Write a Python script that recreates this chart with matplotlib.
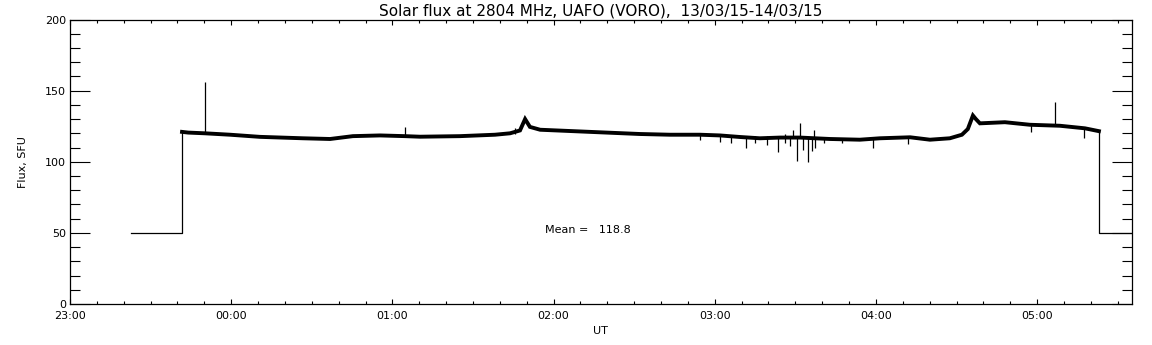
import matplotlib
matplotlib.use("Agg")
import matplotlib.pyplot as plt
from matplotlib.ticker import MultipleLocator, FuncFormatter

# time in minutes after 23:00 UT, flux in SFU
cal_t = [22.7, 41.7, 41.7]
cal_flux = [50.0, 50.0, 121.0]

sun_t = [41.7, 44.0, 50.2, 59.6, 70.7, 86.7, 96.8, 105.3, 115.4, 124.7, 130.3,
         145.2, 158.2, 163.8, 167.5, 169.4, 171.2, 175.0, 197.3, 212.2, 223.3,
         234.5, 241.9, 249.4, 256.8, 264.3, 271.7, 282.9, 294.0, 301.5, 312.7,
         320.1, 327.5, 332.0, 334.2, 336.1, 337.2, 338.7, 348.0, 357.3, 368.5,
         377.8, 383.0]
sun_flux = [121.0, 120.5, 120.0, 119.0, 117.5, 116.5, 116.0, 118.0, 118.5, 118.0, 117.6,
            118.0, 119.0, 120.0, 122.0, 130.0, 124.5, 122.5, 120.7, 119.5, 119.0,
            119.0, 118.5, 117.4, 116.5, 117.0, 117.0, 116.0, 115.5, 116.5, 117.2,
            115.5, 116.5, 119.0, 123.0, 132.5, 130.0, 127.0, 127.8, 126.0, 125.3,
            123.5, 121.5]

end_t = [383.0, 383.0, 395.2]
end_flux = [121.5, 50.0, 50.0]

# short spikes / glitches: time, low end, high end
spike_t = [50.2, 124.7, 165.5, 234.5, 241.9, 246.0, 251.6, 255.0, 259.3, 263.5,
           266.0, 268.0, 269.1, 270.6, 271.7, 272.8, 274.6, 276.2, 277.0, 277.3,
           280.5, 287.3, 298.9, 312.0, 357.9, 366.5, 377.5]
spike_lo = [120.0, 117.5, 119.5, 115.0, 114.0, 113.5, 109.7, 113.0, 112.0, 107.0,
            113.0, 111.0, 118.0, 100.5, 117.0, 108.0, 100.0, 107.6, 117.0, 110.0,
            113.5, 113.0, 110.0, 112.5, 121.0, 125.0, 116.5]
spike_hi = [156.0, 124.6, 123.5, 119.0, 118.5, 118.5, 118.0, 118.0, 118.0, 118.0,
            119.5, 118.0, 122.0, 117.0, 127.5, 117.0, 117.0, 117.0, 122.0, 117.0,
            117.0, 116.5, 116.5, 117.5, 126.5, 142.2, 123.5]

mean_flux = 118.8

fig = plt.figure(figsize=(11.52, 3.45), dpi=100)
ax = fig.add_axes([70 / 1152, 41 / 345, 1061.7 / 1152, 284.5 / 345])

ax.plot(cal_t, cal_flux, color="black", lw=0.9)
ax.plot(end_t, end_flux, color="black", lw=0.9)
ax.plot(sun_t, sun_flux, color="black", lw=2.8, solid_joinstyle="miter")
ax.vlines(spike_t, spike_lo, spike_hi, color="black", lw=0.9)

ax.text(176.8, 52, "Mean =   %.1f" % mean_flux, fontsize=8, va="center", ha="left")

ax.set_xlim(0, 395.2)
ax.set_ylim(0, 200)

ax.xaxis.set_major_locator(MultipleLocator(60))
ax.xaxis.set_minor_locator(MultipleLocator(10))
ax.yaxis.set_major_locator(MultipleLocator(50))
ax.yaxis.set_minor_locator(MultipleLocator(10))
ax.xaxis.set_major_formatter(FuncFormatter(lambda m, p: "%02d:00" % ((23 + int(round(m / 60))) % 24)))

ax.tick_params(axis="x", which="major", direction="in", length=3.8, width=0.8,
               top=True, labelsize=8, pad=5)
ax.tick_params(axis="x", which="minor", direction="in", length=2.0, width=0.8, top=True)
ax.tick_params(axis="y", which="major", direction="in", length=14.4, width=0.8,
               right=True, labelsize=8, pad=3)
ax.tick_params(axis="y", which="minor", direction="in", length=7.2, width=0.8, right=True)
for s in ax.spines.values():
    s.set_linewidth(0.9)

ax.set_title("Solar flux at 2804 MHz, UAFO (VORO),  13/03/15-14/03/15", fontsize=11, pad=3)
ax.set_xlabel("UT", fontsize=8, labelpad=4)
ax.set_ylabel("Flux, SFU", fontsize=8, labelpad=12)

fig.savefig("out.png", dpi=100)
